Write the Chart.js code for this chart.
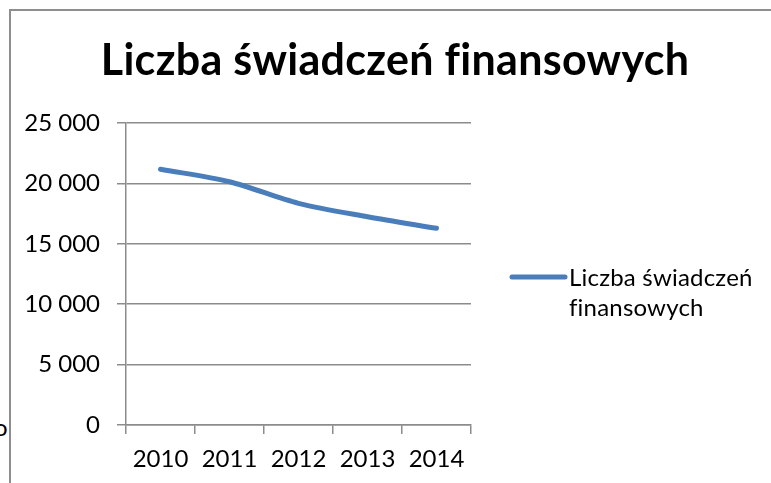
<!DOCTYPE html>
<html><head><meta charset="utf-8">
<script src="https://cdn.jsdelivr.net/npm/chart.js@4"></script>
<style>
html,body{margin:0;padding:0;background:#fff;}
#wrap{position:relative;width:771px;height:483px;overflow:hidden;background:#fff;}
#c{position:absolute;left:0;top:0;}
.frag{position:absolute;left:-6px;top:412px;font:24px Lato, sans-serif;color:#000;}
.bt{position:absolute;left:9px;top:9px;width:762px;height:2px;background:#8e8e8e;}
.bl{position:absolute;left:9px;top:9px;width:2px;height:474px;background:#8e8e8e;}
</style></head>
<body>
<div id="wrap">
<div class="frag">o</div>
<canvas id="c" width="771" height="483"></canvas>
<div class="bt"></div><div class="bl"></div>
</div>
<script>
const years = ['2010', '2011', '2012', '2013', '2014'];
const values = [21170, 20140, 18350, 17240, 16280];
const seriesName = 'Liczba świadczeń finansowych';
const legendLines = ['Liczba świadczeń', 'finansowych'];
const titleText = 'Liczba świadczeń finansowych';
const yMin = 0, yMax = 25000, yStep = 5000;

const LINE_COLOR = '#4a7ebb';
const GRID = '#8c8c8c';
const FONT = 'Lato, "Open Sans", sans-serif';

const fmt = v => String(v).replace(/\B(?=(\d{3})+(?!\d))/g, ' ');

const titlePlugin = {
  id: 'customTitle',
  afterDraw(chart) {
    const ctx = chart.ctx;
    ctx.save();
    ctx.font = 'bold 43px ' + FONT;
    if ('letterSpacing' in ctx) ctx.letterSpacing = '0.3px';
    ctx.fillStyle = '#000';
    ctx.textAlign = 'center';
    ctx.textBaseline = 'middle';
    ctx.fillText(titleText, 395, 61);
    ctx.restore();
  }
};

const legendPlugin = {
  id: 'customLegend',
  afterDraw(chart) {
    const ctx = chart.ctx;
    const a = chart.chartArea;
    const x0 = a.right + 41, x1 = a.right + 94;
    const y = 277;
    ctx.save();
    ctx.strokeStyle = LINE_COLOR;
    ctx.lineWidth = 5;
    ctx.lineCap = 'round';
    ctx.beginPath(); ctx.moveTo(x0, y); ctx.lineTo(x1, y); ctx.stroke();
    ctx.font = '24px ' + FONT;
    if ('letterSpacing' in ctx) ctx.letterSpacing = '0.2px';
    ctx.fillStyle = '#000';
    ctx.textAlign = 'left';
    ctx.textBaseline = 'middle';
    legendLines.forEach((t, i) => ctx.fillText(t, x1 + 4, y + 1 + i * 30));
    ctx.restore();
  }
};

new Chart(document.getElementById('c'), {
  type: 'line',
  data: {
    labels: years,
    datasets: [{
      label: seriesName,
      data: values,
      borderColor: LINE_COLOR,
      borderWidth: 5,
      borderCapStyle: 'round',
      borderJoinStyle: 'round',
      pointRadius: 0,
      pointHoverRadius: 0,
      tension: 0.3,
      fill: false
    }]
  },
  options: {
    responsive: false,
    animation: false,
    devicePixelRatio: 1,
    layout: { padding: { left: 0, right: 300, top: 123, bottom: 0 } },
    plugins: {
      legend: { display: false },
      title: { display: false },
      tooltip: { enabled: false }
    },
    scales: {
      x: {
        type: 'category',
        offset: true,
        grid: { offset: true, drawOnChartArea: false, drawTicks: true, tickLength: 9, color: GRID, lineWidth: 1.5 },
        border: { display: true, color: GRID, width: 1.5 },
        ticks: { font: { family: FONT, size: 24 }, color: '#000', padding: 11, maxRotation: 0, autoSkip: false },
        afterFit(s) { s.height = 58; }
      },
      y: {
        min: yMin, max: yMax,
        ticks: { stepSize: yStep, padding: 17, font: { family: FONT, size: 24 }, color: '#000', callback: v => fmt(v) },
        grid: { color: GRID, lineWidth: 1.5, tickLength: 9, drawTicks: true },
        border: { display: true, color: GRID, width: 1.5 },
        afterFit(s) { s.width = 126; }
      }
    }
  },
  plugins: [titlePlugin, legendPlugin]
});
</script>
</body></html>
